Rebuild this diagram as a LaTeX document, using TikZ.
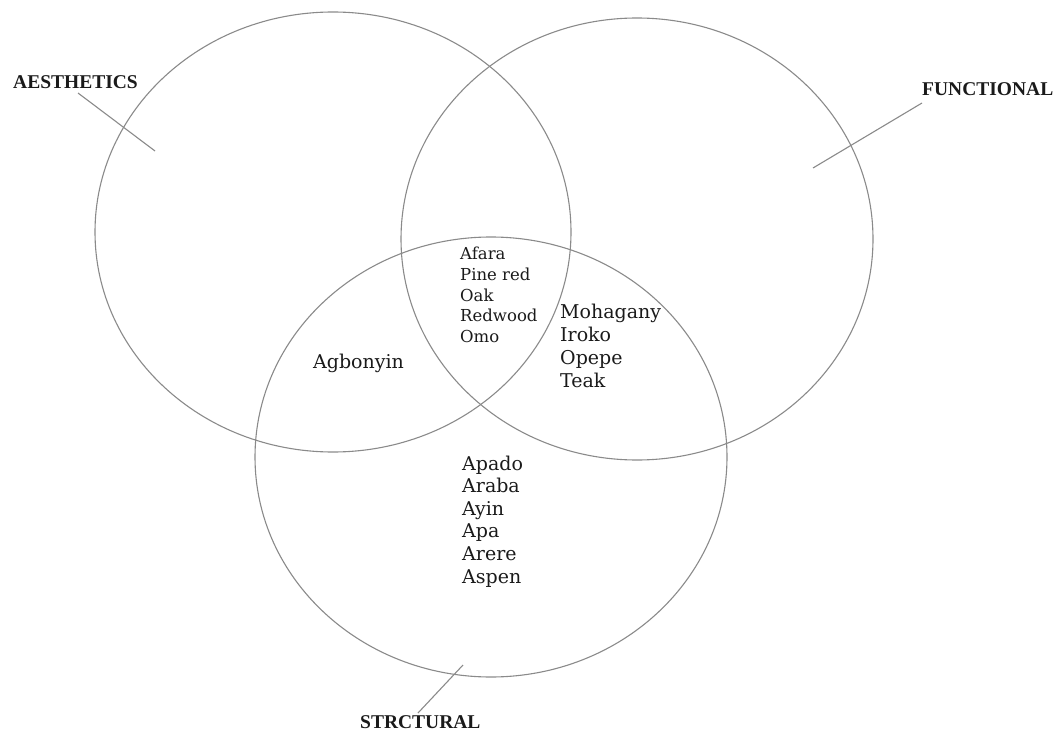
\documentclass[tikz,border=0pt]{standalone}
\usepackage{fontspec}
\setmainfont{DejaVu Serif}
\newfontfamily\labfont{Liberation Serif}
\usetikzlibrary{shapes.geometric}
\definecolor{linegray}{HTML}{8A8A8A}
\definecolor{txt}{HTML}{1A1A1A}
\tikzset{
  setcirc/.style={draw=linegray, line width=1.1pt, ellipse, inner sep=0pt,
    minimum width=#1},
  lead/.style={draw=linegray, line width=1.1pt},
  biglab/.style={font=\labfont\bfseries\fontsize{19.5}{22}\selectfont, text=txt, inner sep=0pt, anchor=base west},
  small/.style={font=\fontsize{16.5}{20}\selectfont, text=txt, inner sep=0pt, anchor=base west},
  med/.style={font=\fontsize{19}{22}\selectfont, text=txt, inner sep=0pt, anchor=base west},
}
\begin{document}
\begin{tikzpicture}[x=1pt, y=-1pt]
\useasboundingbox (0,0) rectangle (1058,733);
% circles
\node[setcirc=476pt, minimum height=440pt] (aes) at (333,232) {};
\node[setcirc=472pt, minimum height=442pt] (fun) at (637,239) {};
\node[setcirc=472pt, minimum height=440pt] (str) at (491,457) {};
% labels
\node[biglab] (laes) at (13,89) {AESTHETICS};
\node[biglab] (lfun) at (922,96) {FUNCTIONAL};
\node[biglab] (lstr) at (360,728.5) {STRCTURAL};
% leader lines
\coordinate (aesA) at (78,93);
\coordinate (aesB) at (155,151);
\coordinate (funA) at (922,103);
\coordinate (funB) at (813,168);
\coordinate (strA) at (418,713);
\coordinate (strB) at (463,665);
\draw[lead] (aesA) -- (aesB);
\draw[lead] (funA) -- (funB);
\draw[lead] (strA) -- (strB);
% centre group
\foreach \w [count=\i] in {Afara, Pine red, Oak, Redwood, Omo}
  \node[small] (c\i) at (460, 259.5+20.8*\i-20.8) {\w};
% aesthetics & structural
\node[med] (ag) at (313,368) {Agbonyin};
% functional & structural
\foreach \w [count=\i] in {Mohagany, Iroko, Opepe, Teak}
  \node[med] (m\i) at (560, 318+23.2*\i-23.2) {\w};
% structural only
\foreach \w [count=\i] in {Apado, Araba, Ayin, Apa, Arere, Aspen}
  \node[med] (s\i) at (462, 470+22.6*\i-22.6) {\w};
\end{tikzpicture}
\end{document}
